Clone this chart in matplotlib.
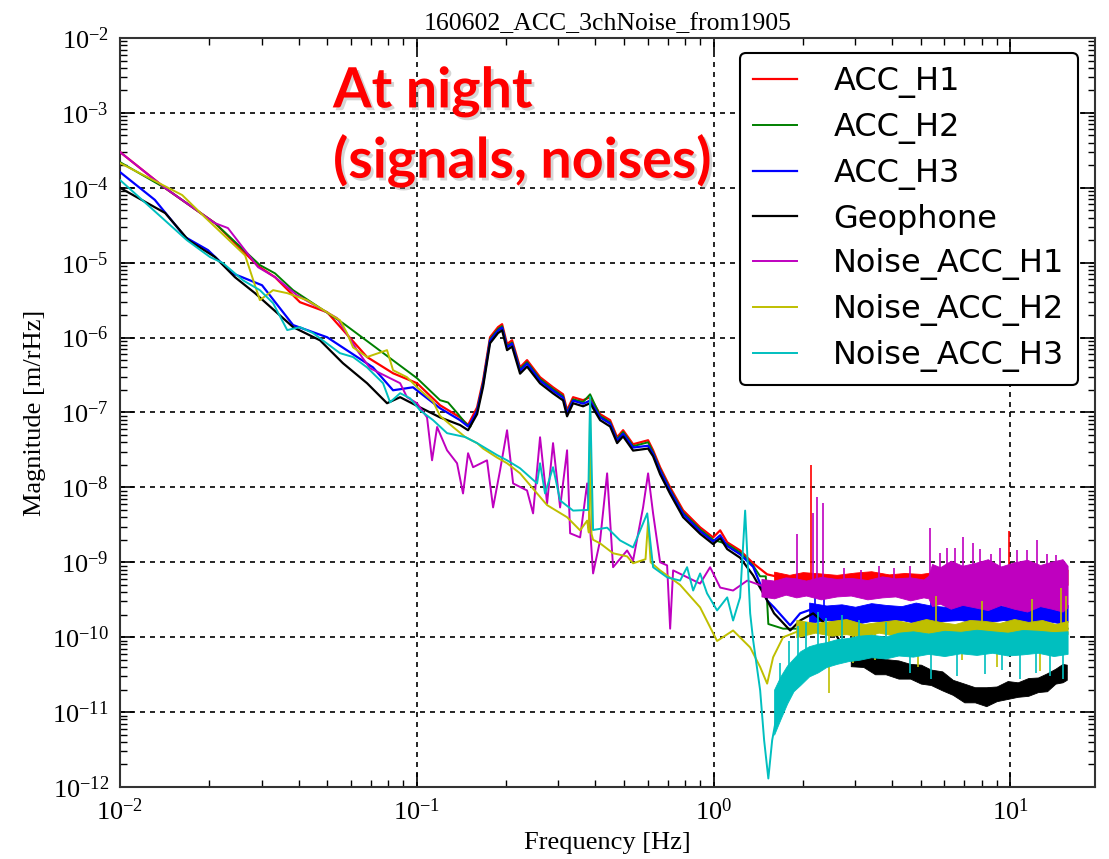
import matplotlib
matplotlib.use("Agg")
import matplotlib.pyplot as plt
import matplotlib.patheffects as pe
from matplotlib.ticker import FixedLocator, LogLocator, LogFormatterMathtext, NullFormatter

plt.rcParams.update({
    "font.family": "Liberation Serif",
    "mathtext.fontset": "custom",
    "mathtext.rm": "Liberation Serif",
    "mathtext.it": "Liberation Serif:italic",
    "mathtext.bf": "Liberation Serif:bold",
})

TITLE = "160602_ACC_3chNoise_from1905"
X_LABEL = "Frequency [Hz]"
Y_LABEL = "Magnitude [m/rHz]"
NOTE = "At night\n(signals, noises)"
X_DECADES = [1e-2, 1e-1, 1e0, 1e1]
Y_DECADES = [1e-12, 1e-11, 1e-10, 1e-9, 1e-8, 1e-7, 1e-6, 1e-5, 1e-4, 1e-3, 1e-2]

# ---------------- ACC_H1 ----------------
acc_h1_freq = [0.0100, 0.0142, 0.0209, 0.0292, 0.0333, 0.0404, 0.0499, 0.0680, 0.0832, 0.1002,
               0.1198, 0.1399, 0.1489, 0.1597, 0.1673, 0.1766, 0.1879, 0.1939, 0.2015, 0.2095,
               0.2229, 0.2353, 0.2603, 0.2879, 0.3112, 0.3210, 0.3363, 0.3635, 0.3838, 0.4148,
               0.4483, 0.4733, 0.4958, 0.5358, 0.6019, 0.6257, 0.6607, 0.7142, 0.7899, 0.9012,
               0.997, 1.053, 1.112, 1.229, 1.360, 1.516, 1.677]
acc_h1_mag = [3.0e-4, 9.9e-5, 3.37e-5, 9.0e-6, 6.4e-6, 2.97e-6, 2.18e-6, 5.5e-7, 3.34e-7, 2.46e-7,
              1.25e-7, 8.6e-8, 6.8e-8, 1.17e-7, 2.7e-7, 1.01e-6, 1.38e-6, 1.51e-6, 8.2e-7, 9.2e-7,
              4.0e-7, 5.0e-7, 2.96e-7, 2.17e-7, 1.75e-7, 1.07e-7, 1.6e-7, 1.46e-7, 1.6e-7, 9.5e-8,
              7.9e-8, 4.67e-8, 5.8e-8, 3.77e-8, 4.26e-8, 3.13e-8, 1.86e-8, 1.0e-8, 4.94e-9, 2.93e-9,
              2.15e-9, 2.67e-9, 1.85e-9, 1.44e-9, 9.7e-10, 6.9e-10, 6.3e-10]
acc_h1_band_freq = [1.6, 1.8, 2.0, 2.3, 2.6, 3.0, 3.4, 3.9, 4.4, 5.0, 5.5, 8.0, 15.6]
acc_h1_band_low = [5.0e-10, 5.0e-10, 5.0e-10, 5.0e-10, 5.0e-10, 5.0e-10, 5.0e-10, 5.0e-10, 5.0e-10,
                   5.0e-10, 5.0e-10, 5.0e-10, 5.0e-10]
acc_h1_band_high = [7.5e-10, 6.8e-10, 7.4e-10, 7.1e-10, 6.8e-10, 7.3e-10, 7.6e-10, 6.9e-10, 7.2e-10,
                    7.0e-10, 7.4e-10, 8.0e-10, 8.0e-10]
acc_h1_spike_freq = [2.13, 9.9]
acc_h1_spike_low = [6.0e-10, 6.0e-10]
acc_h1_spike_high = [2.0e-8, 2.6e-9]

# ---------------- ACC_H2 ----------------
acc_h2_freq = [0.0100, 0.0142, 0.0209, 0.0296, 0.0333, 0.0383, 0.0564, 0.1002, 0.1198, 0.1275,
               0.1367, 0.1455, 0.1514, 0.1597, 0.1673, 0.1766, 0.1879, 0.1939, 0.2015, 0.2095,
               0.2229, 0.2353, 0.2603, 0.2879, 0.3112, 0.3210, 0.3363, 0.3635, 0.3838, 0.4148,
               0.4483, 0.4733, 0.4958, 0.5358, 0.6019, 0.6257, 0.6607, 0.7142, 0.7899, 0.9012,
               0.997, 1.112, 1.229, 1.360, 1.436, 1.500, 1.530, 1.716, 2.0, 15.6]
acc_h2_mag = [2.2e-4, 9.9e-5, 3.37e-5, 9.3e-6, 7.2e-6, 4.3e-6, 1.56e-6, 2.87e-7, 1.46e-7, 1.36e-7,
              9.9e-8, 7.3e-8, 6.4e-8, 1.08e-7, 2.5e-7, 9.5e-7, 1.3e-6, 1.42e-6, 7.7e-7, 8.6e-7,
              3.8e-7, 4.7e-7, 2.8e-7, 2.05e-7, 1.65e-7, 1.0e-7, 1.5e-7, 1.38e-7, 1.75e-7, 9.0e-8,
              7.4e-8, 4.4e-8, 5.5e-8, 3.55e-8, 4.0e-8, 2.95e-8, 1.75e-8, 9.4e-9, 4.6e-9, 2.75e-9,
              2.0e-9, 1.75e-9, 1.35e-9, 9.0e-10, 6.5e-10, 6.5e-10, 1.5e-10, 1.3e-10, 1.3e-10, 1.3e-10]

# ---------------- ACC_H3 ----------------
acc_h3_freq = [0.0100, 0.0131, 0.0166, 0.0198, 0.0239, 0.0258, 0.0301, 0.0383, 0.0499, 0.0712,
               0.0832, 0.0971, 0.1198, 0.1399, 0.1489, 0.1537, 0.1597, 0.1673, 0.1766, 0.1879,
               0.1939, 0.2015, 0.2095, 0.2229, 0.2353, 0.2603, 0.2879, 0.3112, 0.3210, 0.3363,
               0.3635, 0.3838, 0.4148, 0.4483, 0.4733, 0.4958, 0.5358, 0.6019, 0.6257, 0.6607,
               0.7142, 0.7899, 0.9012, 0.997, 1.053, 1.112, 1.229, 1.360, 1.516, 1.600,
               1.812, 1.958, 2.166]
acc_h3_mag = [1.62e-4, 6.9e-5, 2.19e-5, 1.47e-5, 7.2e-6, 6.4e-6, 5.0e-6, 1.47e-6, 1.01e-6, 4.0e-7,
              1.98e-7, 2.17e-7, 1.14e-7, 7.9e-8, 6.5e-8, 7.9e-8, 1.05e-7, 2.4e-7, 9.1e-7, 1.24e-6,
              1.36e-6, 7.4e-7, 8.3e-7, 3.6e-7, 4.5e-7, 2.66e-7, 1.95e-7, 1.58e-7, 9.6e-8, 1.44e-7,
              1.31e-7, 1.44e-7, 8.6e-8, 7.1e-8, 4.2e-8, 5.2e-8, 3.4e-8, 3.6e-8, 2.8e-8, 1.67e-8,
              9.0e-9, 4.4e-9, 2.6e-9, 1.9e-9, 2.3e-9, 1.65e-9, 1.28e-9, 8.7e-10, 3.1e-10, 2.5e-10,
              1.44e-10, 2.08e-10, 2.4e-10]
acc_h3_band_freq = [2.1, 2.4, 2.7, 3.0, 3.4, 3.8, 4.3, 4.8, 5.4, 6.0, 6.8, 7.6, 8.5, 9.5, 10.6,
                    11.8, 13.2, 14.5, 15.6]
acc_h3_band_low = [1.55e-10, 1.7e-10, 1.6e-10, 1.5e-10, 1.65e-10, 1.6e-10, 1.7e-10, 1.55e-10,
                   1.5e-10, 1.65e-10, 1.7e-10, 1.55e-10, 1.6e-10, 1.7e-10, 1.5e-10, 1.6e-10,
                   1.65e-10, 1.55e-10, 1.6e-10]
acc_h3_band_high = [2.9e-10, 2.65e-10, 2.75e-10, 2.55e-10, 2.85e-10, 2.7e-10, 2.6e-10, 2.9e-10,
                    2.65e-10, 2.55e-10, 2.8e-10, 2.7e-10, 2.9e-10, 2.6e-10, 2.75e-10, 2.85e-10,
                    2.6e-10, 2.8e-10, 2.7e-10]
acc_h3_spike_freq = [2.2, 2.35, 5.4, 9.0]
acc_h3_spike_low = [2.0e-10, 2.0e-10, 2.0e-10, 2.0e-10]
acc_h3_spike_high = [3.8e-10, 3.5e-10, 3.3e-10, 3.0e-10]

# ---------------- Geophone ----------------
geo_freq = [0.0100, 0.0142, 0.0170, 0.0209, 0.0244, 0.0285, 0.0383, 0.0472, 0.0564, 0.0680,
            0.0794, 0.0879, 0.1026, 0.1198, 0.1399, 0.1489, 0.1597, 0.1673, 0.1766, 0.1879,
            0.1939, 0.2015, 0.2095, 0.2229, 0.2353, 0.2603, 0.2879, 0.3112, 0.3210, 0.3363,
            0.3635, 0.3838, 0.4148, 0.4483, 0.4733, 0.4958, 0.5358, 0.6019, 0.6257, 0.6607,
            0.7142, 0.7899, 0.9012, 0.997, 1.053, 1.112, 1.229, 1.360, 1.516, 1.600,
            1.812, 1.958, 2.166, 2.530, 2.887, 3.294, 3.730, 4.36, 5.37, 5.9,
            7.16, 8.36, 9.76, 11.4, 12.9, 13.95, 15.4]
geo_mag = [1.0e-4, 4.6e-5, 2.0e-5, 1.19e-5, 6.4e-6, 3.92e-6, 1.38e-6, 9.2e-7, 4.55e-7, 2.46e-7,
           1.33e-7, 1.6e-7, 1.17e-7, 8.6e-8, 6.8e-8, 5.8e-8, 9.5e-8, 2.2e-7, 8.4e-7, 1.15e-6,
           1.25e-6, 6.8e-7, 7.6e-7, 3.3e-7, 4.1e-7, 2.45e-7, 1.8e-7, 1.45e-7, 8.9e-8, 1.33e-7,
           1.21e-7, 1.33e-7, 7.9e-8, 6.5e-8, 3.9e-8, 4.8e-8, 3.1e-8, 3.3e-8, 2.6e-8, 1.5e-8,
           8.2e-9, 4.0e-9, 2.4e-9, 1.75e-9, 2.1e-9, 1.5e-9, 1.15e-9, 6.7e-10, 3.1e-10, 2.08e-10,
           1.23e-10, 1.67e-10, 2.08e-10, 1.23e-10, 5.4e-11, 4.9e-11, 4.0e-11, 3.6e-11, 2.9e-11, 2.6e-11,
           1.77e-11, 1.58e-11, 1.95e-11, 2.14e-11, 2.34e-11, 3.1e-11, 3.4e-11]
geo_band_freq = [2.9, 3.2, 3.5, 3.8, 4.2, 4.6, 5.0, 5.4, 5.9, 6.4, 7.0, 7.6, 8.3, 9.0, 9.8, 10.6,
                 11.5, 12.4, 13.3, 14.2, 15.0, 15.5]
geo_band_low = [4.1e-11, 4.0e-11, 3.2e-11, 3.2e-11, 2.8e-11, 2.8e-11, 2.4e-11, 2.3e-11, 1.95e-11,
                1.7e-11, 1.35e-11, 1.35e-11, 1.2e-11, 1.4e-11, 1.5e-11, 1.6e-11, 1.65e-11, 1.85e-11,
                1.9e-11, 2.4e-11, 2.5e-11, 2.7e-11]
geo_band_high = [7.2e-11, 6.3e-11, 5.8e-11, 5.1e-11, 4.9e-11, 4.4e-11, 4.3e-11, 3.7e-11, 3.5e-11,
                 2.7e-11, 2.4e-11, 2.15e-11, 2.15e-11, 2.2e-11, 2.6e-11, 2.5e-11, 2.85e-11, 2.9e-11,
                 3.3e-11, 3.8e-11, 4.4e-11, 4.3e-11]

# ---------------- Noise_ACC_H1 ----------------
n1_freq = [0.0100, 0.0142, 0.0209, 0.0231, 0.0292, 0.0333, 0.0395, 0.0539, 0.0629, 0.0696,
           0.0879, 0.0927, 0.1002, 0.1083, 0.1126, 0.1171, 0.1265, 0.1367, 0.1432, 0.1489,
           0.1548, 0.1725, 0.1808, 0.1909, 0.2015, 0.2112, 0.2353, 0.2466, 0.2603, 0.2749,
           0.2879, 0.3041, 0.3210, 0.3287, 0.3552, 0.3751, 0.3928, 0.4148, 0.4380, 0.4587,
           0.5115, 0.5358, 0.5789, 0.6019, 0.6257, 0.6607, 0.6976, 0.7142, 0.7309, 0.9012,
           0.9739, 1.053, 1.164, 1.299, 1.516]
n1_mag = [3.0e-4, 9.9e-5, 3.37e-5, 2.9e-5, 8.7e-6, 6.4e-6, 3.68e-6, 1.82e-6, 6.8e-7, 3.9e-7,
          2.46e-7, 1.6e-7, 1.33e-7, 8.6e-8, 2.3e-8, 6.4e-8, 3.13e-8, 2.1e-8, 8.3e-9, 2.86e-8,
          1.86e-8, 2.3e-8, 5.4e-9, 1.7e-8, 5.8e-8, 1.13e-8, 9.1e-9, 4.5e-9, 4.67e-8, 6.1e-9,
          3.9e-8, 5.4e-9, 3.13e-8, 2.44e-9, 2.15e-9, 1.13e-8, 7.1e-10, 1.96e-9, 1.54e-8, 8.6e-10,
          1.44e-9, 1.06e-9, 5.4e-9, 1.54e-8, 4.5e-9, 1.0e-9, 9.1e-10, 1.3e-10, 7.8e-10, 5.2e-10,
          8.6e-10, 4.6e-10, 4.2e-10, 5.7e-10, 4.6e-10]
n1_band_freq = [1.45, 1.6, 1.75, 1.9, 2.05, 2.3, 2.6, 2.9, 3.3, 3.7, 4.1, 4.6, 5.1, 5.3, 5.45,
                5.8, 6.3, 6.9, 7.6, 8.4, 9.3, 10.3, 11.4, 12.6, 13.8, 15.0, 15.6]
n1_band_low = [3.5e-10, 3.3e-10, 3.7e-10, 3.4e-10, 3.6e-10, 3.2e-10, 3.5e-10, 3.6e-10, 3.2e-10,
               3.4e-10, 3.5e-10, 3.1e-10, 3.4e-10, 3.3e-10, 2.6e-10, 2.8e-10, 2.4e-10, 2.7e-10,
               2.5e-10, 2.3e-10, 2.7e-10, 2.4e-10, 2.2e-10, 2.6e-10, 2.4e-10, 2.2e-10, 2.5e-10]
n1_band_high = [6.0e-10, 5.7e-10, 6.3e-10, 6.1e-10, 5.7e-10, 6.4e-10, 6.0e-10, 6.2e-10, 5.8e-10,
                6.5e-10, 6.1e-10, 6.3e-10, 5.9e-10, 6.6e-10, 9.5e-10, 8.6e-10, 1.05e-9, 9.0e-10,
                9.8e-10, 1.1e-9, 8.8e-10, 1.0e-9, 1.08e-9, 9.2e-10, 1.02e-9, 1.1e-9, 9.0e-10]
n1_spike_freq = [1.91, 2.17, 2.24, 2.33, 2.75, 3.15, 3.6, 4.05, 4.6, 5.37, 5.8, 6.1,
                 6.5, 6.95, 7.5, 7.9, 8.6, 9.2, 10.5, 11.4, 12.3, 13.3, 14.3, 15.2]
n1_spike_low = [4.5e-10] * 24
n1_spike_high = [2.4e-9, 4.5e-9, 7.4e-9, 6.1e-9, 8.5e-10, 8.0e-10, 9.0e-10, 8.5e-10, 9.0e-10,
                 2.84e-9, 1.32e-9, 1.55e-9, 1.55e-9, 2.15e-9, 1.8e-9, 1.5e-9, 1.3e-9, 1.55e-9,
                 1.45e-9, 1.45e-9, 2.0e-9, 1.3e-9, 1.25e-9, 8.0e-10]

# ---------------- Noise_ACC_H2 ----------------
n2_freq = [0.0100, 0.0162, 0.0193, 0.0264, 0.0296, 0.0328, 0.0366, 0.0427, 0.0551, 0.0582,
           0.0610, 0.0680, 0.0794, 0.0832, 0.0927, 0.1002, 0.1135, 0.1198, 0.1325, 0.1457,
           0.1597, 0.1673, 0.1865, 0.2015, 0.2229, 0.2544, 0.2749, 0.3210, 0.3552, 0.3751,
           0.3800, 0.3838, 0.3880, 0.3928, 0.4148, 0.4587, 0.5115, 0.5358, 0.5900, 0.6019,
           0.6140, 0.6607, 0.7716, 0.9012, 1.028, 1.164, 1.329, 1.436, 1.516, 1.588,
           1.716, 1.958]
n2_mag = [2.14e-4, 8.0e-5, 4.06e-5, 1.25e-5, 3.16e-6, 4.3e-6, 3.92e-6, 3.16e-6, 1.71e-6, 1.15e-6,
          7.4e-7, 5.5e-7, 6.8e-7, 3.67e-7, 2.96e-7, 2.17e-7, 1.4e-7, 9.0e-8, 6.4e-8, 4.7e-8,
          3.9e-8, 3.3e-8, 2.5e-8, 2.1e-8, 1.54e-8, 8.3e-9, 5.8e-9, 4.0e-9, 2.67e-9, 3.6e-9,
          2.5e-9, 1.2e-7, 2.4e-9, 2.0e-9, 1.79e-9, 1.32e-9, 1.2e-9, 9.7e-10, 1.1e-9, 3.5e-9,
          1.0e-9, 7.8e-10, 5.0e-10, 2.5e-10, 8.9e-11, 1.23e-10, 7.3e-11, 4.0e-11, 2.4e-11, 5.4e-11,
          1.0e-10, 1.23e-10]
n2_band_freq = [1.9, 2.2, 2.5, 2.8, 3.2, 3.6, 4.1, 4.6, 5.2, 5.8, 6.5, 7.3, 8.2, 9.2, 10.3,
                11.5, 12.8, 14.2, 15.6]
n2_band_low = [1.0e-10, 1.15e-10, 1.05e-10, 1.1e-10, 1.0e-10, 1.15e-10, 1.05e-10, 1.1e-10,
               1.15e-10, 1.0e-10, 1.05e-10, 1.15e-10, 1.1e-10, 1.0e-10, 1.15e-10, 1.05e-10,
               1.1e-10, 1.15e-10, 1.1e-10]
n2_band_high = [1.7e-10, 1.55e-10, 1.65e-10, 1.75e-10, 1.5e-10, 1.6e-10, 1.7e-10, 1.55e-10,
                1.75e-10, 1.6e-10, 1.5e-10, 1.7e-10, 1.65e-10, 1.55e-10, 1.75e-10, 1.6e-10,
                1.7e-10, 1.5e-10, 1.65e-10]
n2_spike_freq = [2.45, 2.95, 3.5, 4.9, 5.6, 6.9, 8.0, 9.0, 11.8, 12.6, 14.8, 15.4]
n2_spike_low = [1.8e-11, 4.5e-11, 5.0e-11, 4.0e-11, 1.3e-10, 5.0e-11, 1.3e-10, 4.0e-11, 1.3e-10,
                3.5e-11, 1.3e-10, 1.3e-10]
n2_spike_high = [1.3e-10, 1.3e-10, 1.3e-10, 1.3e-10, 3.5e-10, 1.3e-10, 3.0e-10, 1.3e-10, 3.2e-10,
                 1.3e-10, 4.5e-10, 3.5e-10]

# ---------------- Noise_ACC_H3 ----------------
n3_freq = [0.0100, 0.0168, 0.0201, 0.0222, 0.0260, 0.0296, 0.0328, 0.0366, 0.0404, 0.0447,
           0.0551, 0.0610, 0.0680, 0.0770, 0.0813, 0.0879, 0.0949, 0.1026, 0.1135, 0.1265,
           0.1457, 0.1597, 0.1865, 0.2015, 0.2229, 0.2544, 0.2603, 0.2706, 0.2879, 0.3041,
           0.3363, 0.3777, 0.3838, 0.3928, 0.4380, 0.4843, 0.5358, 0.5979, 0.6257, 0.6976,
           0.7716, 0.8147, 0.8538, 0.9012, 0.951, 1.028, 1.112, 1.164, 1.229, 1.278,
           1.329, 1.360, 1.436, 1.481, 1.530, 1.576, 1.638]
n3_mag = [1.27e-4, 2.0e-5, 1.19e-5, 9.9e-6, 5.8e-6, 4.3e-6, 2.88e-6, 1.26e-6, 1.38e-6, 1.15e-6,
          6.2e-7, 5.5e-7, 4.0e-7, 2.46e-7, 1.37e-7, 1.81e-7, 1.55e-7, 1.07e-7, 7.9e-8, 5.3e-8,
          4.7e-8, 3.9e-8, 2.7e-8, 2.3e-8, 1.8e-8, 1.13e-8, 2.1e-8, 8.3e-9, 1.86e-8, 6.7e-9,
          4.9e-9, 5.0e-9, 1.6e-7, 2.7e-9, 2.9e-9, 1.96e-9, 1.58e-9, 4.5e-9, 8.6e-10, 6.3e-10,
          5.7e-10, 8.6e-10, 4.2e-10, 7.1e-10, 3.85e-10, 2.28e-10, 3.4e-10, 1.67e-10, 3.4e-10, 4.9e-9,
          2.08e-10, 9.1e-11, 1.95e-11, 4.2e-12, 1.3e-12, 4.2e-12, 9.6e-12]
n3_band_freq = [1.6, 1.68, 1.77, 1.86, 1.96, 2.1, 2.25, 2.4, 2.6, 2.85, 3.1, 3.4, 3.8, 4.2, 4.7,
                5.3, 6.0, 6.8, 7.7, 8.7, 9.8, 11.0, 12.4, 14.0, 15.6]
n3_band_low = [5.0e-12, 8.0e-12, 1.3e-11, 1.9e-11, 2.3e-11, 3.0e-11, 3.4e-11, 4.0e-11, 4.4e-11,
               4.8e-11, 5.0e-11, 5.4e-11, 5.2e-11, 5.7e-11, 5.5e-11, 6.0e-11, 5.6e-11, 6.1e-11,
               5.8e-11, 6.2e-11, 5.7e-11, 5.9e-11, 6.2e-11, 5.6e-11, 6.0e-11]
n3_band_high = [2.0e-11, 3.0e-11, 4.2e-11, 5.2e-11, 6.5e-11, 7.6e-11, 8.2e-11, 8.6e-11, 9.4e-11,
                9.8e-11, 1.05e-10, 1.08e-10, 1.02e-10, 1.15e-10, 1.2e-10, 1.12e-10, 1.22e-10,
                1.18e-10, 1.26e-10, 1.2e-10, 1.15e-10, 1.25e-10, 1.22e-10, 1.17e-10, 1.2e-10]
n3_spike_freq = [1.68, 1.80, 1.92, 2.05, 2.25, 2.40, 2.70, 3.1, 3.8,
                 4.6, 5.4, 6.6, 8.2, 9.4, 10.8, 12.2, 13.6, 15.0]
n3_spike_low = [1.5e-11, 3.0e-11, 4.0e-11, 4.5e-11, 5.5e-11, 6.0e-11, 7.0e-11, 7.5e-11, 8.0e-11,
                3.3e-11, 2.8e-11, 3.0e-11, 3.2e-11, 3.6e-11, 2.8e-11, 3.3e-11, 3.0e-11, 2.8e-11]
n3_spike_high = [4.5e-11, 9.0e-11, 1.4e-10, 1.6e-10, 2.2e-10, 1.8e-10, 2.0e-10, 1.7e-10, 1.6e-10,
                 9.0e-11, 9.0e-11, 9.0e-11, 9.0e-11, 9.0e-11, 9.0e-11, 9.0e-11, 9.0e-11, 9.0e-11]

series = [
    dict(label="ACC_H1", color="#ff0000", f=acc_h1_freq, v=acc_h1_mag, lw=1.6,
         band=(acc_h1_band_freq, acc_h1_band_low, acc_h1_band_high),
         spikes=(acc_h1_spike_freq, acc_h1_spike_low, acc_h1_spike_high)),
    dict(label="ACC_H2", color="#008000", f=acc_h2_freq, v=acc_h2_mag, lw=1.4,
         band=None, spikes=None),
    dict(label="ACC_H3", color="#0000ff", f=acc_h3_freq, v=acc_h3_mag, lw=1.6,
         band=(acc_h3_band_freq, acc_h3_band_low, acc_h3_band_high),
         spikes=(acc_h3_spike_freq, acc_h3_spike_low, acc_h3_spike_high)),
    dict(label="Geophone", color="#000000", f=geo_freq, v=geo_mag, lw=1.6,
         band=(geo_band_freq, geo_band_low, geo_band_high), spikes=None),
    dict(label="Noise_ACC_H1", color="#bf00bf", f=n1_freq, v=n1_mag, lw=1.4,
         band=(n1_band_freq, n1_band_low, n1_band_high),
         spikes=(n1_spike_freq, n1_spike_low, n1_spike_high)),
    dict(label="Noise_ACC_H2", color="#bfbf00", f=n2_freq, v=n2_mag, lw=1.4,
         band=(n2_band_freq, n2_band_low, n2_band_high),
         spikes=(n2_spike_freq, n2_spike_low, n2_spike_high)),
    dict(label="Noise_ACC_H3", color="#00bfbf", f=n3_freq, v=n3_mag, lw=1.4,
         band=(n3_band_freq, n3_band_low, n3_band_high),
         spikes=(n3_spike_freq, n3_spike_low, n3_spike_high)),
]

fig = plt.figure(figsize=(11.09, 8.59), dpi=100)
ax = fig.add_axes([0.1082, 0.0838, 0.8792, 0.872])
ax.set_xscale("log")
ax.set_yscale("log")

handles = []
for i, s in enumerate(series):
    z = 3 + i
    line, = ax.plot(s["f"], s["v"], color=s["color"], lw=s["lw"], label=s["label"], zorder=z)
    handles.append(line)
    if s["band"] is not None:
        bf, blo, bhi = s["band"]
        ax.fill_between(bf, blo, bhi, color=s["color"], lw=0.6, edgecolor=s["color"], zorder=z)
    if s["spikes"] is not None:
        sf, slo, shi = s["spikes"]
        ax.vlines(sf, slo, shi, color=s["color"], lw=1.2, zorder=z)

ax.set_xlim(1e-2, 19.3)
ax.set_ylim(1e-12, 1e-2)

ax.xaxis.set_major_locator(FixedLocator(X_DECADES))
ax.yaxis.set_major_locator(FixedLocator(Y_DECADES))
ax.xaxis.set_minor_locator(LogLocator(base=10, subs=range(2, 10), numticks=100))
ax.yaxis.set_minor_locator(LogLocator(base=10, subs=range(2, 10), numticks=100))
ax.xaxis.set_major_formatter(LogFormatterMathtext())
ax.yaxis.set_major_formatter(LogFormatterMathtext())
ax.xaxis.set_minor_formatter(NullFormatter())
ax.yaxis.set_minor_formatter(NullFormatter())

ax.tick_params(which="both", direction="in", top=True, right=True, labelsize=19)
ax.tick_params(which="major", length=10, width=1.2, pad=8)
ax.tick_params(which="minor", length=5, width=1.0)
for sp in ax.spines.values():
    sp.set_linewidth(1.5)
    sp.set_color("#333333")

ax.grid(True, which="major", color="k", linestyle=(0, (3, 3)), linewidth=1.2, zorder=1)

ax.set_title(TITLE, fontsize=18.5, pad=6)
ax.set_xlabel(X_LABEL, fontsize=19, labelpad=5)
ax.set_ylabel(Y_LABEL, fontsize=19, labelpad=4)

leg = ax.legend(handles=handles, loc="upper right", bbox_to_anchor=(0.9826, 0.98),
                borderaxespad=0, prop={"family": "DejaVu Sans", "size": 23},
                handlelength=1.35, handletextpad=1.15, labelspacing=0.43,
                fancybox=True, framealpha=1, edgecolor="black", borderpad=0.42)
leg.get_frame().set_linewidth(1.5)
leg.set_zorder(20)

ax.text(0.2185, 0.962, NOTE, transform=ax.transAxes, ha="left", va="top",
        color="#ff0000", fontsize=40, fontweight="bold", family="Lato",
        linespacing=1.39, zorder=25,
        path_effects=[pe.withSimplePatchShadow(offset=(2, -2), shadow_rgbFace="#888888", alpha=0.35)])

fig.savefig("out.png", dpi=100)
